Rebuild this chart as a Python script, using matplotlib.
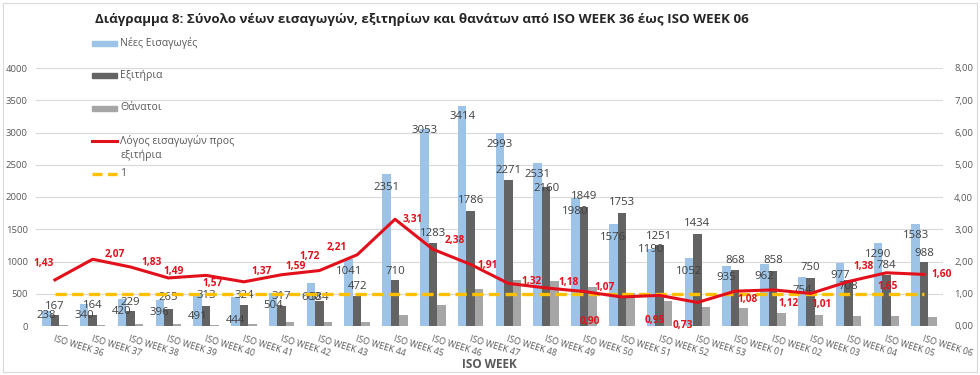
import matplotlib.pyplot as plt
from matplotlib.patches import Rectangle
from matplotlib.lines import Line2D
from matplotlib.ticker import FuncFormatter, MultipleLocator
import numpy as np

plt.rcParams['font.family'] = ['Open Sans', 'DejaVu Sans']

weeks = ['ISO WEEK 36', 'ISO WEEK 37', 'ISO WEEK 38', 'ISO WEEK 39', 'ISO WEEK 40',
         'ISO WEEK 41', 'ISO WEEK 42', 'ISO WEEK 43', 'ISO WEEK 44', 'ISO WEEK 45',
         'ISO WEEK 46', 'ISO WEEK 47', 'ISO WEEK 48', 'ISO WEEK 49', 'ISO WEEK 50',
         'ISO WEEK 51', 'ISO WEEK 52', 'ISO WEEK 53', 'ISO WEEK 01', 'ISO WEEK 02',
         'ISO WEEK 03', 'ISO WEEK 04', 'ISO WEEK 05', 'ISO WEEK 06']
admissions = [238, 340, 420, 396, 491, 444, 504, 660, 1041, 2351, 3053, 3414,
              2993, 2531, 1980, 1576, 1190, 1052, 935, 962, 754, 977, 1290, 1583]
discharges = [167, 164, 229, 265, 313, 324, 317, 384, 472, 710, 1283, 1786,
              2271, 2160, 1849, 1753, 1251, 1434, 868, 858, 750, 708, 784, 988]
deaths = [20, 12, 30, 30, 18, 30, 55, 55, 55, 170, 330, 580,
          710, 700, 610, 515, 390, 300, 275, 195, 170, 155, 155, 135]
ratio = [1.43, 2.07, 1.83, 1.49, 1.57, 1.37, 1.59, 1.72, 2.21, 3.31, 2.38, 1.91,
         1.32, 1.18, 1.07, 0.90, 0.95, 0.73, 1.08, 1.12, 1.01, 1.38, 1.65, 1.60]
threshold = [1.0] * 24

# label nudges in pixels, the way excel left them (y positive = up)
adm_dy = [-5, -11, -13, -12, -22, -23, -12, -14, -13, -13, -1, -11,
          -12, -12, -13, -13, 0, -13, -12, -13, -13, -13, -12, -12]
dis_dy = [9, 10, 9, 11, 10, 10, 9, 4, 9, 9, 10, 10,
          9, -2, 10, 10, 9, 10, 10, 10, 10, -6, 10, 9]
ratio_off = [(-11, 16), (22, 5), (21, 4), (5, 6), (7, -8), (18, 10), (14, 8), (-10, 14),
             (-20, 7), (18, 0), (22, 9), (17, -1), (23, 2), (22, 5), (21, 4), (-32, -25),
             (-5, -25), (-15, -23), (12, -8), (16, -14), (11, -11), (15, 15), (1, -14), (18, 0)]

BLUE = '#9dc3e6'
DARK = '#636363'
LIGHT = '#a6a6a6'
RED = '#e3101c'
GOLD = '#ffc000'
TXT = '#595959'
px = 0.72  # pixels -> points at 100 dpi

fig = plt.figure(figsize=(9.8, 3.75), dpi=100)
ax = fig.add_axes([36/980, 49/375, 907/980, 258/375])
ax2 = ax.twinx()

def fx(p):
    return p / 980

def fy(p):
    return 1 - p / 375

x = np.arange(len(weeks))
w = 0.225
ax.bar(x - w, admissions, w, color=BLUE, zorder=2)
ax.bar(x, discharges, w, color=DARK, zorder=2)
ax.bar(x + w, deaths, w, color=LIGHT, zorder=2)

for i in range(len(x)):
    ax.annotate(str(admissions[i]), (x[i] - w, admissions[i]), xytext=(0, adm_dy[i]*px),
                textcoords='offset points', ha='center', va='center', fontsize=8.2,
                color='#404040', zorder=5)
    ax.annotate(str(discharges[i]), (x[i], discharges[i]), xytext=(0, dis_dy[i]*px),
                textcoords='offset points', ha='center', va='center', fontsize=8.2,
                color='#404040', zorder=5)

ax2.plot(x, ratio, color=RED, lw=2.2, zorder=4)
ax2.plot(x, threshold, color=GOLD, lw=2.4, dashes=(3.4, 1.6), zorder=3)
for i in range(len(x)):
    dx, dy = ratio_off[i]
    ax2.annotate(('%.2f' % ratio[i]).replace('.', ','), (x[i], ratio[i]),
                 xytext=(dx*px, dy*px), textcoords='offset points', ha='center',
                 va='center', fontsize=7.3, fontweight='bold', color=RED, zorder=6)

ax.set_xlim(-0.5, len(x) - 0.5)
ax.set_ylim(0, 4000)
ax2.set_ylim(0, 8)
ax.yaxis.set_major_locator(MultipleLocator(500))
ax2.yaxis.set_major_locator(MultipleLocator(1))
ax2.yaxis.set_major_formatter(FuncFormatter(lambda v, p: ('%.2f' % v).replace('.', ',')))
ax.grid(axis='y', color='#d9d9d9', lw=0.8, zorder=0)
ax.set_axisbelow(True)
for a in (ax, ax2):
    for s in a.spines.values():
        s.set_visible(False)
    a.tick_params(length=0, labelsize=6.8, labelcolor=TXT)
ax.tick_params(axis='y', pad=6)
ax2.tick_params(axis='y', pad=8)

ax.set_xticks(x)
ax.set_xticklabels(weeks, rotation=-17, ha='left', va='top', rotation_mode='anchor',
                   fontsize=6.3, color=TXT)
ax.tick_params(axis='x', pad=6)
fig.text(fx(489), fy(365), 'ISO WEEK', fontsize=8.5, fontweight='bold', color=TXT,
         ha='center', va='center')

fig.text(fx(95), fy(20), 'Διάγραμμα 8: Σύνολο νέων εισαγωγών, εξιτηρίων και θανάτων από ISO WEEK 36 έως ISO WEEK 06',
         fontsize=9.6, fontweight='bold', color='#262626', ha='left', va='center')

# legend, laid out by hand like the excel one
leg_items = [('bar', BLUE, 'Νέες Εισαγωγές', 43),
             ('bar', DARK, 'Εξιτήρια', 75),
             ('bar', LIGHT, 'Θάνατοι', 108),
             ('line', RED, 'Λόγος εισαγωγών προς\nεξιτήρια', 141),
             ('dash', GOLD, '1', 174)]
for kind, col, lab, yp in leg_items:
    if kind == 'bar':
        fig.patches.append(Rectangle((fx(92), fy(yp + 2.5)), 25/980, 5/375,
                                     transform=fig.transFigure, color=col))
    elif kind == 'line':
        fig.lines.append(Line2D([fx(92), fx(117)], [fy(yp), fy(yp)], transform=fig.transFigure,
                                color=col, lw=2.2))
    else:
        fig.lines.append(Line2D([fx(92), fx(117)], [fy(yp), fy(yp)], transform=fig.transFigure,
                                color=col, lw=2.4, dashes=(3.0, 1.6)))
    if '\n' in lab:
        fig.text(fx(120), fy(yp - 6), lab, fontsize=7.6, color=TXT, ha='left', va='top',
                 linespacing=1.4)
    else:
        fig.text(fx(120), fy(yp), lab, fontsize=7.6, color=TXT, ha='left', va='center')

fig.patches.append(Rectangle((fx(3), 3/375), 974/980, 369/375, transform=fig.transFigure,
                             fill=False, ec='#d9d9d9', lw=0.8))

fig.savefig('out.png', dpi=100)
